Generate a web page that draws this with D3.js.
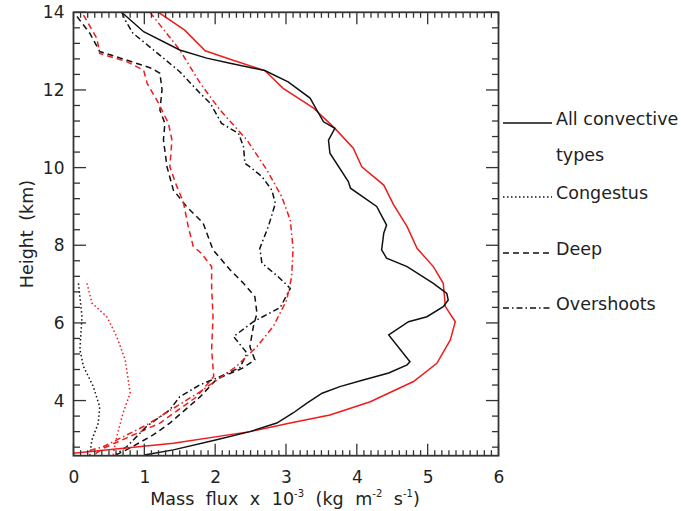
<!DOCTYPE html>
<html>
<head>
<meta charset="utf-8">
<script src="https://cdn.jsdelivr.net/npm/d3@7"></script>
<style>
  body { margin: 0; background: #fff; }
  text { font-family: "DejaVu Sans", "Liberation Sans", sans-serif; fill: #222; }
</style>
</head>
<body>
<div id="chart"></div>
<script>
// profiles: [mass flux (x10^-3 kg m^-2 s^-1), height (km)]
const allBlack = [[0.68,14],[0.99,13.5],[1.5,13.03],[1.88,12.82],[2.21,12.69],[2.7,12.5],[3.03,12.21],[3.34,11.79],[3.46,11.4],[3.53,11.18],[3.69,11.01],[3.6,10.71],[3.62,10.37],[3.88,9.64],[3.91,9.47],[4.28,9.0],[4.42,8.52],[4.38,8.31],[4.35,7.88],[4.42,7.67],[4.71,7.45],[5.08,7.02],[5.27,6.76],[5.29,6.59],[5.22,6.42],[4.99,6.16],[4.73,6.03],[4.45,5.69],[4.75,5.0],[4.71,4.92],[4.45,4.71],[4.09,4.53],[3.76,4.36],[3.51,4.19],[3.29,3.93],[3.1,3.68],[2.87,3.42],[2.49,3.2],[2.02,2.99],[1.41,2.73],[1.0,2.6]];
const allRed = [[1.2,14],[1.57,13.54],[1.86,13.01],[2.21,12.79],[2.7,12.5],[2.96,12.04],[3.39,11.53],[3.69,11.01],[3.95,10.5],[4.07,10.02],[4.38,9.55],[4.52,9.04],[4.71,8.48],[4.85,7.92],[5.08,7.45],[5.22,7.02],[5.25,6.42],[5.39,6.03],[5.32,5.56],[5.13,4.96],[4.8,4.49],[4.19,3.97],[3.62,3.63],[3.06,3.42],[2.49,3.2],[1.41,2.9],[0,2.64]];
const congBlack = [[0.07,7.02],[0.12,6.16],[0.09,5.31],[0.14,4.88],[0.28,4.36],[0.37,3.84],[0.35,3.42],[0.26,2.99],[0.23,2.6]];
const congRed = [[0.19,7.02],[0.26,6.51],[0.47,6.16],[0.61,5.65],[0.73,5.05],[0.8,4.19],[0.7,3.68],[0.61,3.07],[0.56,2.6]];
const deepBlack = [[0.05,13.89],[0.23,13.46],[0.37,12.99],[0.75,12.77],[1.1,12.56],[1.22,12.43],[1.25,12.0],[1.22,11.48],[1.29,11.14],[1.27,10.71],[1.32,10.02],[1.41,9.42],[1.6,8.99],[1.83,8.57],[1.97,7.88],[2.21,7.37],[2.4,7.02],[2.56,6.68],[2.59,6.25],[2.54,5.91],[2.49,5.39],[2.56,5.05],[2.38,4.83],[2.02,4.55],[1.79,4.1],[1.36,3.42],[1.13,3.12],[0.8,2.78],[0.6,2.6]];
const deepRed = [[0.14,13.93],[0.33,13.33],[0.37,12.94],[0.75,12.73],[0.99,12.51],[1.04,12.17],[1.2,11.66],[1.34,11.14],[1.39,10.71],[1.36,10.02],[1.46,9.51],[1.55,9.12],[1.62,8.48],[1.69,7.97],[1.8,7.8],[1.95,7.45],[1.95,6.94],[1.97,6.16],[1.95,5.31],[1.98,4.62],[1.74,4.1],[1.22,3.42],[0.42,2.77],[0.3,2.62]];
const overBlack = [[0.68,14],[0.73,13.8],[0.84,13.46],[1.13,13.03],[1.5,12.47],[1.79,11.91],[1.93,11.66],[2.09,11.14],[2.33,10.88],[2.4,10.54],[2.42,10.11],[2.49,10.02],[2.66,9.77],[2.8,9.42],[2.85,9.08],[2.75,8.48],[2.63,7.92],[2.66,7.54],[2.89,7.19],[3.06,6.89],[2.92,6.4],[2.54,6.03],[2.26,5.65],[2.45,5.22],[2.35,4.85],[2.05,4.6],[1.79,4.41],[1.5,4.1],[1.36,3.76],[1.03,3.33],[0.75,2.81],[0.6,2.62]];
const overRed = [[1.08,14],[1.5,13.03],[1.79,12.17],[2.07,11.48],[2.45,10.71],[2.73,9.94],[2.94,9.25],[3.06,8.65],[3.1,7.92],[3.08,7.19],[3.01,6.59],[2.82,5.91],[2.59,5.39],[2.3,4.88],[2.0,4.5],[1.79,4.23],[1.03,3.37],[0.42,2.81],[0.2,2.7]];

const xTicks = [0, 1, 2, 3, 4, 5, 6];
const yTicks = [4, 6, 8, 10, 12, 14];
const legendLabels = [["All convective", "types"], ["Congestus"], ["Deep"], ["Overshoots"]];

const width = 681, height = 511;
const plotL = 73.5, plotR = 498.5, plotT = 12.3, plotB = 455.7;
const fontFam = "'DejaVu Sans', 'Liberation Sans', sans-serif";

const svg = d3.select("#chart").append("svg")
  .attr("width", width)
  .attr("height", height);

const x = d3.scaleLinear().domain([0, 6]).range([plotL, plotR]);
const y = d3.scaleLinear().domain([2.58, 14]).range([plotB, plotT]);

const dashes = {
  solid: null,
  dotted: "1.5,2.5",
  dashed: "6,4",
  dashdot: "6,3,1.5,3"
};

svg.append("clipPath").attr("id", "clip")
  .append("rect")
  .attr("x", plotL).attr("y", plotT)
  .attr("width", plotR - plotL).attr("height", plotB - plotT);

const line = d3.line().x(d => x(d[0])).y(d => y(d[1]));

const red = "#ee1c1c", black = "#111";
const series = [
  { data: congBlack, color: black, dash: dashes.dotted },
  { data: congRed, color: red, dash: dashes.dotted },
  { data: deepBlack, color: black, dash: dashes.dashed },
  { data: deepRed, color: red, dash: dashes.dashed },
  { data: overBlack, color: black, dash: dashes.dashdot },
  { data: overRed, color: red, dash: dashes.dashdot },
  { data: allRed, color: red, dash: dashes.solid },
  { data: allBlack, color: black, dash: dashes.solid }
];

const plot = svg.append("g").attr("clip-path", "url(#clip)");
series.forEach(s => {
  plot.append("path")
    .datum(s.data)
    .attr("d", line)
    .attr("fill", "none")
    .attr("stroke", s.color)
    .attr("stroke-width", 1.5)
    .attr("stroke-dasharray", s.dash);
});

// axes: IDL-style box with inward ticks on all four sides
const axisColor = "#333";
const xMinor = d3.range(0, 6.001, 0.1).map(v => +v.toFixed(1));
const yMinor = d3.range(2.8, 14.001, 0.4).map(v => +v.toFixed(1));

const ticks = svg.append("g").attr("stroke", axisColor).attr("stroke-width", 1.3);
xMinor.forEach(v => {
  const major = Math.abs(v - Math.round(v)) < 1e-6;
  const len = major ? 12 : 5.5;
  ticks.append("line").attr("x1", x(v)).attr("x2", x(v)).attr("y1", plotB).attr("y2", plotB - len);
  ticks.append("line").attr("x1", x(v)).attr("x2", x(v)).attr("y1", plotT).attr("y2", plotT + len);
});
yMinor.forEach(v => {
  const major = yTicks.includes(v);
  const len = major ? 12.5 : 6.5;
  ticks.append("line").attr("y1", y(v)).attr("y2", y(v)).attr("x1", plotL).attr("x2", plotL + len);
  ticks.append("line").attr("y1", y(v)).attr("y2", y(v)).attr("x1", plotR).attr("x2", plotR - len);
});

svg.append("rect")
  .attr("x", plotL).attr("y", plotT)
  .attr("width", plotR - plotL).attr("height", plotB - plotT)
  .attr("fill", "none")
  .attr("stroke", axisColor)
  .attr("stroke-width", 1.8);

const gx = svg.append("g")
  .attr("transform", `translate(0,${plotB})`)
  .call(d3.axisBottom(x).tickValues(xTicks).tickFormat(d3.format("d")).tickSize(0).tickPadding(15));
gx.select(".domain").remove();
gx.selectAll("text").attr("font-size", 17).attr("fill", "#222").style("font-family", fontFam);

const gy = svg.append("g")
  .attr("transform", `translate(${plotL},0)`)
  .call(d3.axisLeft(y).tickValues(yTicks).tickFormat(d3.format("d")).tickSize(0).tickPadding(9));
gy.select(".domain").remove();
gy.selectAll("text").attr("font-size", 17).attr("fill", "#222").style("font-family", fontFam);

// axis titles
const xt = svg.append("text")
  .attr("x", 285).attr("y", 505)
  .attr("text-anchor", "middle")
  .attr("font-size", 17.5)
  .attr("word-spacing", 6);
xt.append("tspan").text("Mass flux x 10");
xt.append("tspan").attr("dy", -8).attr("font-size", 10).text("-3");
xt.append("tspan").attr("dy", 8).text(" (kg m");
xt.append("tspan").attr("dy", -8).attr("font-size", 10).text("-2");
xt.append("tspan").attr("dy", 8).text(" s");
xt.append("tspan").attr("dy", -8).attr("font-size", 10).text("-1");
xt.append("tspan").attr("dy", 8).text(")");

svg.append("text")
  .attr("transform", "translate(33,234) rotate(-90)")
  .attr("text-anchor", "middle")
  .attr("font-size", 17.5)
  .attr("word-spacing", 4)
  .text("Height (km)");

// legend
const legendY = [123, 197, 253, 308];
const legendDash = [dashes.solid, dashes.dotted, dashes.dashed, dashes.dashdot];
const legend = svg.append("g");
legendLabels.forEach((lab, i) => {
  legend.append("line")
    .attr("x1", 503).attr("x2", 552)
    .attr("y1", legendY[i]).attr("y2", legendY[i])
    .attr("stroke", black)
    .attr("stroke-width", 1.3)
    .attr("stroke-dasharray", legendDash[i]);
  lab.forEach((t, j) => {
    legend.append("text")
      .attr("x", 556)
      .attr("y", legendY[i] + 1.5 + j * 36)
      .attr("font-size", 17.5)
      .text(t);
  });
});
</script>
</body>
</html>
